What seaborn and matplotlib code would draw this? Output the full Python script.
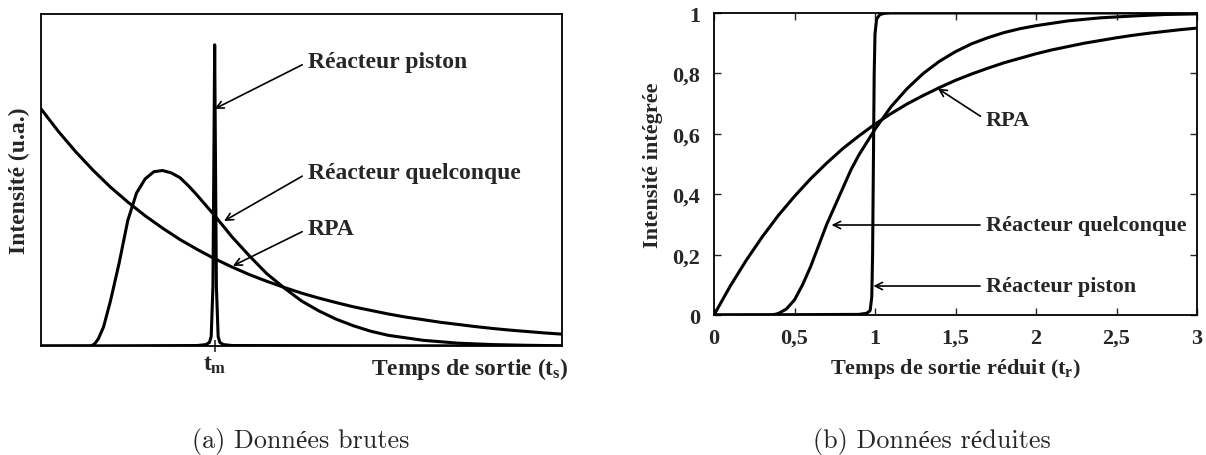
import matplotlib
matplotlib.use('Agg')
import matplotlib.pyplot as plt
import seaborn as sns

# --- (a) raw data, x in units of t_m ---
raw_rpa_x = [0.0, 0.1, 0.2, 0.3, 0.4, 0.5, 0.6, 0.7, 0.8, 0.9, 1.0, 1.1, 1.2, 1.3, 1.4, 1.5,
             1.6, 1.7, 1.8, 1.9, 2.0, 2.1, 2.2, 2.3, 2.4, 2.5, 2.6, 2.7, 2.8, 2.9, 3.0]
raw_rpa_y = [1.000, 0.905, 0.819, 0.741, 0.670, 0.607, 0.549, 0.497, 0.449, 0.407, 0.368, 0.333,
             0.301, 0.273, 0.247, 0.223, 0.202, 0.183, 0.165, 0.150, 0.135, 0.122, 0.111, 0.100,
             0.091, 0.082, 0.074, 0.067, 0.061, 0.055, 0.050]

raw_any_x = [0.0, 0.29, 0.31, 0.33, 0.36, 0.40, 0.45, 0.50, 0.55, 0.60, 0.65, 0.70, 0.75, 0.80,
             0.85, 0.90, 1.00, 1.10, 1.20, 1.30, 1.40, 1.50, 1.60, 1.70, 1.80, 1.90, 2.00, 2.20,
             2.40, 2.60, 2.80, 3.00]
raw_any_y = [0.0, 0.0, 0.01, 0.03, 0.08, 0.19, 0.35, 0.53, 0.645, 0.705, 0.735, 0.74, 0.73, 0.71,
             0.675, 0.635, 0.55, 0.46, 0.38, 0.305, 0.245, 0.19, 0.148, 0.113, 0.085, 0.062, 0.045,
             0.024, 0.012, 0.006, 0.003, 0.001]

raw_piston_x = [0.0, 0.90, 0.95, 0.97, 0.98, 0.99, 0.995, 1.0, 1.005, 1.01, 1.02, 1.03, 1.05, 1.10, 3.0]
raw_piston_y = [0.0, 0.002, 0.006, 0.015, 0.04, 0.25, 0.75, 1.27, 0.75, 0.25, 0.04, 0.015, 0.006, 0.002, 0.0]

t_m = 1.0

# --- (b) reduced (integrated) data ---
red_rpa_x = raw_rpa_x
red_rpa_y = [0.0, 0.095, 0.181, 0.259, 0.330, 0.393, 0.451, 0.503, 0.551, 0.593, 0.632, 0.667,
             0.699, 0.727, 0.753, 0.777, 0.798, 0.817, 0.835, 0.850, 0.865, 0.878, 0.889, 0.900,
             0.909, 0.918, 0.926, 0.933, 0.939, 0.945, 0.950]

red_any_x = [0.0, 0.36, 0.40, 0.45, 0.50, 0.55, 0.60, 0.65, 0.70, 0.75, 0.80, 0.85, 0.90, 1.00,
             1.10, 1.20, 1.30, 1.40, 1.50, 1.60, 1.70, 1.80, 1.90, 2.00, 2.20, 2.40, 2.60, 2.80, 3.00]
red_any_y = [0.0, 0.0, 0.005, 0.02, 0.05, 0.10, 0.16, 0.23, 0.30, 0.36, 0.42, 0.48, 0.53, 0.615,
             0.69, 0.75, 0.80, 0.84, 0.872, 0.898, 0.918, 0.935, 0.948, 0.958, 0.974, 0.984, 0.99,
             0.995, 0.997]

red_piston_x = [0.0, 0.90, 0.95, 0.97, 0.98, 0.985, 0.99, 0.995, 1.0, 1.01, 1.03, 1.06, 1.10, 3.0]
red_piston_y = [0.0, 0.002, 0.006, 0.015, 0.06, 0.2, 0.5, 0.8, 0.93, 0.98, 0.995, 0.999, 1.0, 1.0]

x_ticks = [0, 0.5, 1, 1.5, 2, 2.5, 3]
x_tick_labels = ['0', '0,5', '1', '1,5', '2', '2,5', '3']
y_ticks = [0, 0.2, 0.4, 0.6, 0.8, 1]
y_tick_labels = ['0', '0,2', '0,4', '0,6', '0,8', '1']

sns.set_style('ticks')
plt.rcParams['font.family'] = ['Liberation Serif', 'DejaVu Serif']
plt.rcParams['font.weight'] = 'bold'
plt.rcParams['mathtext.fontset'] = 'custom'
plt.rcParams['mathtext.rm'] = 'Liberation Serif:bold'
plt.rcParams['mathtext.it'] = 'Liberation Serif:bold'
plt.rcParams['mathtext.bf'] = 'Liberation Serif:bold'

FS_A = 17   # left panel text
FS_B = 16   # right panel text
LW = 2.2
arrow = dict(arrowstyle='->', color='black', lw=1.2, relpos=(0, 0.5), shrinkA=2, shrinkB=0,
             mutation_scale=13)

fig = plt.figure(figsize=(12.06, 4.56), dpi=100)
ax1 = fig.add_axes([41 / 1206, 1 - 347 / 456, 521 / 1206, 332 / 456])
ax2 = fig.add_axes([714 / 1206, 1 - 316 / 456, 483 / 1206, 302 / 456])

for ax in (ax1, ax2):
    for s in ax.spines.values():
        s.set_linewidth(1.3)
        s.set_color('black')

# (a)
for xs, ys in [(raw_rpa_x, raw_rpa_y), (raw_any_x, raw_any_y), (raw_piston_x, raw_piston_y)]:
    sns.lineplot(x=xs, y=ys, ax=ax1, color='black', lw=LW, estimator=None, sort=False)
ax1.set_xlim(0, 3)
ax1.set_ylim(0, 1.40)
ax1.set_yticks([])
ax1.set_xticks([t_m])
ax1.set_xticklabels([r'$t_m$'], fontsize=FS_A)
ax1.tick_params(axis='x', direction='inout', length=9, width=1.2, pad=1)
ax1.set_ylabel('Intensité (u.a.)', fontsize=FS_A, fontweight='bold', labelpad=8)
ax1.text(1.013, -0.084, r'Temps de sortie (t$_s$)', transform=ax1.transAxes, ha='right',
         va='baseline', fontsize=FS_A, fontweight='bold')

ax1.annotate('Réacteur piston', xy=(1.0, 1.0), xytext=(1.537, 1.198), fontsize=FS_A,
             fontweight='bold', ha='left', va='center', arrowprops=arrow)
ax1.annotate('Réacteur quelconque', xy=(1.054, 0.527), xytext=(1.537, 0.730), fontsize=FS_A,
             fontweight='bold', ha='left', va='center', arrowprops=arrow)
ax1.annotate('RPA', xy=(1.105, 0.338), xytext=(1.537, 0.494), fontsize=FS_A,
             fontweight='bold', ha='left', va='center', arrowprops=arrow)

# (b)
for xs, ys in [(red_rpa_x, red_rpa_y), (red_any_x, red_any_y), (red_piston_x, red_piston_y)]:
    sns.lineplot(x=xs, y=ys, ax=ax2, color='black', lw=LW, estimator=None, sort=False)
ax2.set_xlim(0, 3)
ax2.set_ylim(0, 1)
ax2.set_xticks(x_ticks)
ax2.set_xticklabels(x_tick_labels, fontsize=FS_B, fontweight='bold')
ax2.set_yticks(y_ticks)
ax2.set_yticklabels(y_tick_labels, fontsize=FS_B, fontweight='bold')
ax2.tick_params(direction='in', length=5, width=1.0, top=True, right=True)
ax2.tick_params(axis='x', pad=9)
ax2.tick_params(axis='y', pad=10)
ax2.set_xlabel(r'Temps de sortie réduit (t$_r$)', fontsize=FS_B, fontweight='bold', labelpad=6)
ax2.set_ylabel('Intensité intégrée', fontsize=FS_B, fontweight='bold', labelpad=7)

ax2.annotate('RPA', xy=(1.39, 0.75), xytext=(1.69, 0.646), fontsize=FS_B,
             fontweight='bold', ha='left', va='center', arrowprops=arrow)
ax2.annotate('Réacteur quelconque', xy=(0.73, 0.298), xytext=(1.69, 0.298), fontsize=FS_B,
             fontweight='bold', ha='left', va='center', arrowprops=arrow)
ax2.annotate('Réacteur piston', xy=(0.99, 0.096), xytext=(1.69, 0.096), fontsize=FS_B,
             fontweight='bold', ha='left', va='center', arrowprops=arrow)

# sub-captions
cap_font = ['cmr10', 'Liberation Serif']
fig.text(301 / 1206, 1 - 442 / 456, '(a) Données brutes', ha='center', va='center',
         fontsize=18.8, fontweight='normal', family=cap_font)
fig.text(932 / 1206, 1 - 442 / 456, '(b) Données réduites', ha='center', va='center',
         fontsize=18.8, fontweight='normal', family=cap_font)

fig.savefig('out.png', dpi=100)
